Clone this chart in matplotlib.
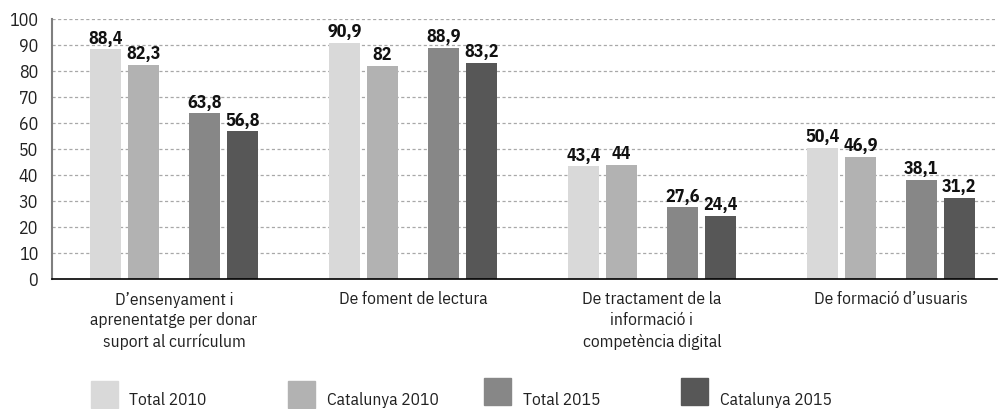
import numpy as np
import matplotlib
matplotlib.use('Agg')
import matplotlib.pyplot as plt
from matplotlib.patches import Rectangle

############################### DATA ##########################################

categories = ["D\u2019ensenyament i\naprenentatge per donar\nsuport al curr\u00edculum",
              "De foment de lectura",
              "De tractament de la\ninformaci\u00f3 i\ncompet\u00e8ncia digital",
              "De formaci\u00f3 d\u2019usuaris"]
series     = ["Total 2010", "Catalunya 2010", "Total 2015", "Catalunya 2015"]
total_2010     = [88.4, 90.9, 43.4, 50.4]
catalunya_2010 = [82.3, 82.0, 44.0, 46.9]
total_2015     = [63.8, 88.9, 27.6, 38.1]
catalunya_2015 = [56.8, 83.2, 24.4, 31.2]
yticks = list(range(0, 101, 10))

############################### STYLE #########################################

colours = ['#d9d9d9', '#b2b2b2', '#878787', '#575757']
offsets = [-0.2866, -0.1276, 0.1276, 0.2866]
width   = 0.13
plt.rcParams['font.family'] = ['IBM Plex Sans Condensed', 'DejaVu Sans']

W, H = 999, 409
fig = plt.figure(figsize=(W/100, H/100), dpi=100)
# axes in pixels: left 52, right 997, top 19, bottom 279
ax = fig.add_axes([52/W, 1-279/H, (997-52)/W, (279-19)/H])

############################### PLOT ##########################################

x = np.arange(len(categories))
data = [total_2010, catalunya_2010, total_2015, catalunya_2015]
for vals, off, col, name in zip(data, offsets, colours, series):
    bars = ax.bar(x+off, vals, width, color=col, label=name, zorder=3)
    for b, v in zip(bars, vals):
        ax.text(b.get_x()+b.get_width()/2, v+0.6, f"{v:g}".replace('.', ','),
                ha='center', va='bottom', fontsize=13, fontweight='bold',
                color='#111111', zorder=4)

ax.set_xlim(-0.51, 3.444)
ax.set_ylim(0, 100)
ax.set_yticks(yticks)
ax.set_yticklabels([str(t) for t in yticks], fontsize=13, color='#222222')
ax.set_xticks(x)
ax.set_xticklabels(categories, fontsize=12.5, color='#222222', linespacing=1.38,
                   va='top')
ax.tick_params(axis='y', length=0, pad=10)
ax.tick_params(axis='x', length=0, pad=9)

for t in yticks[1:]:
    ax.axhline(t, color='#a8a8a8', lw=0.9, ls=(0, (2.5, 2)), zorder=1)

ax.spines['top'].set_visible(False)
ax.spines['right'].set_visible(False)
ax.spines['left'].set_color('#7f7f7f')
ax.spines['left'].set_linewidth(1.5)
ax.spines['bottom'].set_color('#000000')
ax.spines['bottom'].set_linewidth(1.2)
ax.spines['bottom'].set_zorder(5)

#legenda handmatig (vierkantjes + tekst onderaan)
leg_sq  = [(91, 381), (288, 381), (484, 378), (681, 378)]
leg_txt = [129, 327, 523, 720]
for (sx, sy), tx, col, name in zip(leg_sq, leg_txt, colours, series):
    fig.patches.append(Rectangle((sx/W, 1-(sy+27)/H), 27/W, 27/H,
                                 transform=fig.transFigure, color=col))
    fig.text(tx/W, 1-405/H, name, fontsize=12.5, color='#222222',
             ha='left', va='baseline')

fig.savefig('out.png', dpi=100)
